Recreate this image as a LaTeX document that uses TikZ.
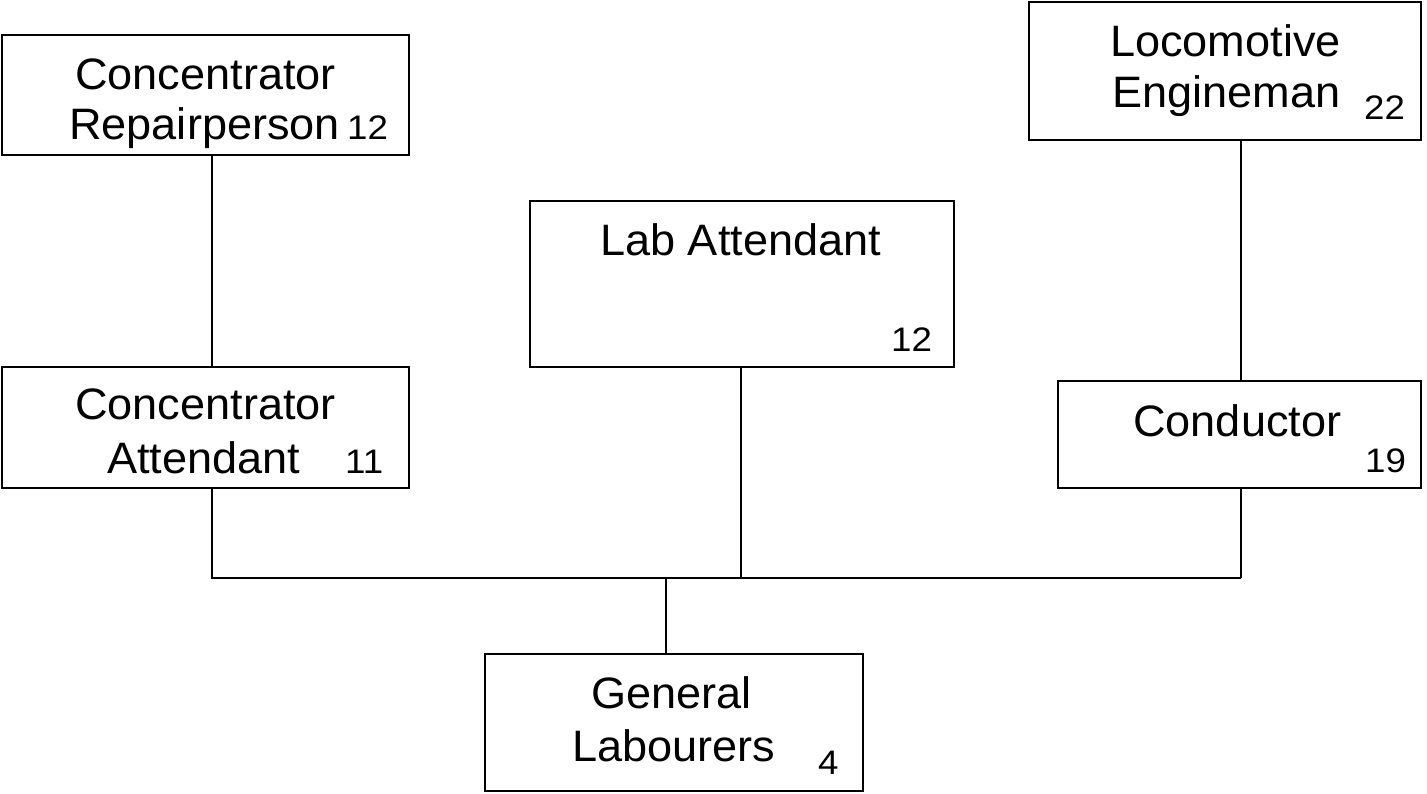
\documentclass[tikz,border=0pt]{standalone}
\usepackage{fontspec}
\setmainfont{Liberation Sans}[FakeStretch=1.025]
\newfontfamily\numfont{Liberation Sans}[FakeStretch=1.08]
\tikzset{
  box/.style={draw=black, line width=1.6pt, rectangle, inner sep=0pt},
  conn/.style={draw=black, line width=1.6pt},
  big/.style={anchor=base west, inner sep=0pt, font=\fontsize{44}{50}\selectfont},
  num/.style={anchor=base west, inner sep=0pt, font=\numfont\fontsize{34}{38}\selectfont}
}
\begin{document}
\begin{tikzpicture}[x=1pt,y=-1pt]
\useasboundingbox (0,0) rectangle (1427,793);
% boxes
\node[box, minimum width=407pt, minimum height=120pt] (cr) at (205.5,95) {};
\node[box, minimum width=392pt, minimum height=138pt] (le) at (1225,71) {};
\node[box, minimum width=424pt, minimum height=166pt] (la) at (742,284) {};
\node[box, minimum width=407pt, minimum height=121pt] (ca) at (205.5,427.5) {};
\node[box, minimum width=363pt, minimum height=107pt] (co) at (1239.5,434.5) {};
\node[box, minimum width=378pt, minimum height=137pt] (gl) at (674,722.5) {};
% texts
\node[big] (t1a) at (75,89) {Concentrator};
\node[big] (t1b) at (69,139) {Repairperson};
\node[num] (n1) at (347,139) {12};
\node[big] (t2a) at (1110,56) {Locomotive};
\node[big] (t2b) at (1112,107) {Engineman};
\node[num] (n2) at (1364,119) {22};
\node[big] (t3a) at (600,255) {Lab Attendant};
\node[num] (n3) at (891,351) {12};
\node[big] (t4a) at (75,419) {Concentrator};
\node[big] (t4b) at (107,473) {Attendant};
\node[num] (n4) at (345,473) {11};
\node[big] (t5a) at (1133,436) {Conductor};
\node[num] (n5) at (1365,472) {19};
\node[big] (t6a) at (591,708) {General};
\node[big] (t6b) at (572,761) {Labourers};
\node[num] (n6) at (818,774) {4};
% bus coordinates
\coordinate (busL) at (212,578);
\coordinate (busM) at (741,578);
\coordinate (busR) at (1241,578);
\coordinate (busC) at (666,578);
% connectors
\draw[conn] (cr.south -| busL) -- (ca.north -| busL);
\draw[conn] (le.south -| busR) -- (co.north -| busR);
\draw[conn] (ca.south -| busL) -- (busL) -- (busR);
\draw[conn] (la.south -| busM) -- (busM);
\draw[conn] (co.south -| busR) -- (busR);
\draw[conn] (busC) -- (gl.north -| busC);
\end{tikzpicture}
\end{document}
